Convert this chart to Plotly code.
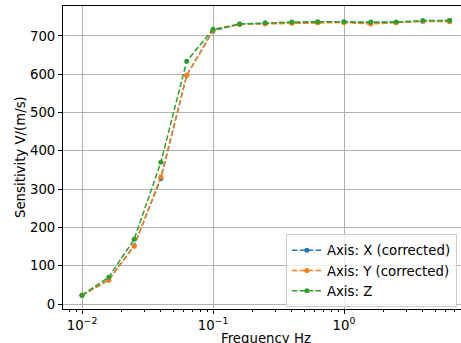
import plotly.graph_objects as go

freq = [0.01, 0.016, 0.025, 0.04, 0.063, 0.1, 0.16, 0.25, 0.4, 0.63, 1.0, 1.6, 2.5, 4.0, 6.4]
sens_x = [23, 63, 152, 328, 597, 713, 731, 733, 734, 735, 736, 734, 735, 738, 740]
sens_y = [23, 62, 151, 332, 597, 715, 730, 731, 733, 734, 735, 731, 734, 738, 737]
sens_z = [23, 70, 169, 370, 634, 717, 731, 734, 736, 737, 737, 736, 736, 740, 740]
names = ["Axis: X (corrected)", "Axis: Y (corrected)", "Axis: Z"]
colors = ["#1f77b4", "#ff7f0e", "#2ca02c"]
x_title = "Frequency Hz"
y_title = "Sensitivity V/(m/s)"

fig = go.Figure()
for name, ys, c in zip(names, [sens_x, sens_y, sens_z], colors):
    fig.add_trace(go.Scatter(x=freq, y=ys, mode="lines+markers", name=name,
                             line=dict(color=c, width=1.5, dash="5.5px,2.4px"),
                             marker=dict(color=c, size=5)))

minor_vals = [m * 10.0 ** e for e in range(-3, 1) for m in range(2, 10)]
font = dict(family="DejaVu Sans", size=13.3, color="#000000")
fig.update_layout(
    width=461, height=343,
    margin=dict(l=63, r=0, t=6, b=34),
    plot_bgcolor="white", paper_bgcolor="white",
    font=font,
    showlegend=True,
    legend=dict(x=0.56, y=(309 - 234) / 303, xanchor="left", yanchor="top",
                bgcolor="rgba(255,255,255,0.8)", bordercolor="#cccccc", borderwidth=1,
                font=dict(family="DejaVu Sans", size=13.3), tracegroupgap=0,
                itemwidth=30),
    xaxis=dict(type="log", range=[-2.145, 0.893], automargin=False,
               tickvals=[0.01, 0.1, 1], ticktext=["10<sup>−2</sup>", "10<sup>−1</sup>", "10<sup>0</sup>"],
               ticks="outside", ticklen=4, tickcolor="black",
               showline=True, linecolor="black", linewidth=1, mirror=True,
               showgrid=True, gridcolor="#b0b0b0", gridwidth=0.8,
               zeroline=False,
               minor=dict(tickvals=minor_vals, ticks="outside", ticklen=2, tickcolor="black", showgrid=False)),
    yaxis=dict(range=[-13, 778], tickvals=[0, 100, 200, 300, 400, 500, 600, 700], automargin=False,
               ticks="outside", ticklen=4, tickcolor="black",
               showline=True, linecolor="black", linewidth=1, mirror=False,
               showgrid=True, gridcolor="#b0b0b0", gridwidth=0.8,
               zeroline=False),
)
fig.add_annotation(text=x_title, xref="paper", yref="paper", x=(266 - 63) / 398, y=-(338 - 309) / 303,
                   xanchor="center", yanchor="middle", showarrow=False, font=font)
fig.add_annotation(text=y_title, xref="paper", yref="paper", x=(20.5 - 63) / 398, y=0.5,
                   xanchor="center", yanchor="middle", showarrow=False, textangle=-90, font=font)
fig.write_html("out.html", config={"displayModeBar": False})
with open("out.html", encoding="utf-8") as f:
    html = f.read()
html = html.replace("<head>", "<head><style>html,body{margin:0;padding:0;overflow:hidden;}</style>", 1)
with open("out.html", "w", encoding="utf-8") as f:
    f.write(html)
